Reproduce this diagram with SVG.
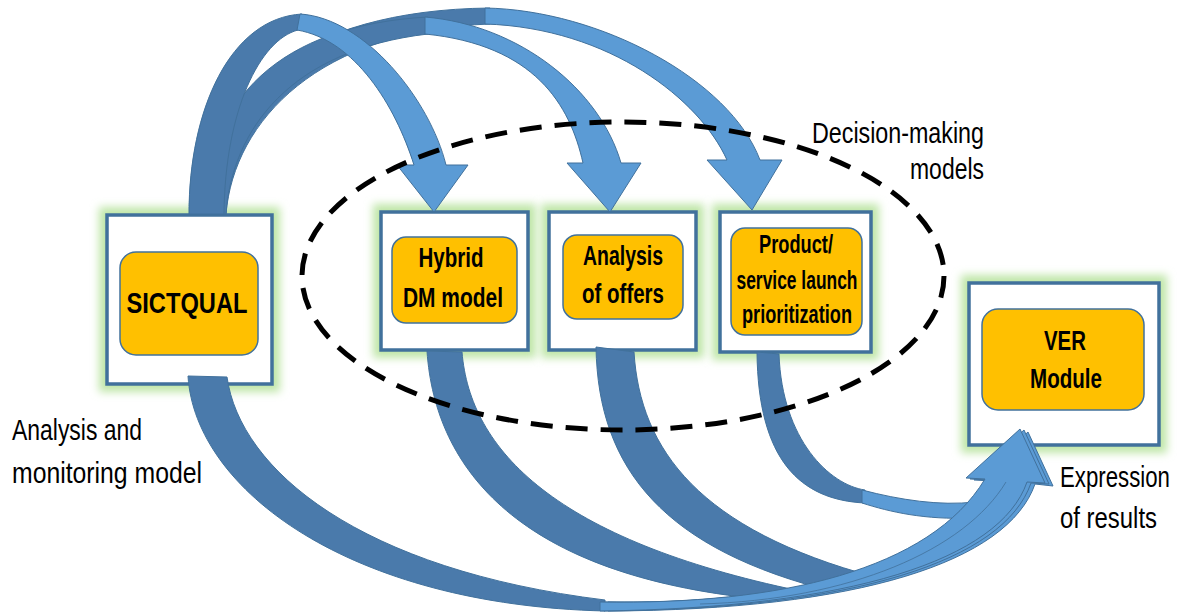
<svg xmlns="http://www.w3.org/2000/svg" width="1180" height="612" viewBox="0 0 1180 612">
<defs>
<style>
.glow{fill:none;stroke:#bfe6a8;stroke-width:16;filter:url(#blur)}
.box{fill:#fff;stroke:#41719c;stroke-width:3.5}
.core{fill:#ffc000;stroke:#41719c;stroke-width:1.5}
.nt{font-family:"Liberation Sans Narrow","Liberation Sans",Arial,sans-serif;font-weight:bold;fill:#000;text-anchor:middle}
.lb{font-family:"Liberation Sans Narrow","Liberation Sans",Arial,sans-serif;fill:#000;font-size:29px}
.dk{fill:#4a7aab;stroke:#41719c;stroke-width:1}
.lt{fill:#5b9bd5;stroke:#41719c;stroke-width:1}
.ln{fill:none;stroke:#41719c;stroke-width:0.8}
</style>
<filter id="blur" x="-20%" y="-20%" width="140%" height="140%"><feGaussianBlur stdDeviation="4.5"/></filter>
</defs>
<rect width="1180" height="612" fill="#fff"/>

<g id="node-sictqual">
<rect class="glow" x="107" y="215" width="165" height="169"/>
<rect class="box" x="107" y="215" width="165" height="169"/>
<rect class="core" x="120" y="252" width="138" height="103" rx="16"/>
<text class="nt" x="187" y="313" font-size="30" textLength="121" lengthAdjust="spacingAndGlyphs">SICTQUAL</text>
</g>

<g id="node-hybrid">
<rect class="glow" x="381" y="212" width="147" height="138"/>
<rect class="box" x="381" y="212" width="147" height="138"/>
<rect class="core" x="392" y="237" width="125" height="86" rx="14"/>
<text class="nt" x="451" y="267" font-size="27" textLength="65" lengthAdjust="spacingAndGlyphs">Hybrid</text>
<text class="nt" x="453" y="307" font-size="27" textLength="100" lengthAdjust="spacingAndGlyphs">DM model</text>
</g>

<g id="node-offers">
<rect class="glow" x="549" y="212" width="147" height="138"/>
<rect class="box" x="549" y="212" width="147" height="138"/>
<rect class="core" x="563" y="235" width="120" height="84" rx="14"/>
<text class="nt" x="623" y="265" font-size="27" textLength="80" lengthAdjust="spacingAndGlyphs">Analysis</text>
<text class="nt" x="623" y="303" font-size="27" textLength="82" lengthAdjust="spacingAndGlyphs">of offers</text>
</g>

<g id="node-product">
<rect class="glow" x="720" y="212" width="151" height="140"/>
<rect class="box" x="720" y="212" width="151" height="140"/>
<rect class="core" x="731" y="228" width="131" height="107" rx="14"/>
<text class="nt" x="796" y="253" font-size="25" textLength="74" lengthAdjust="spacingAndGlyphs">Product/</text>
<text class="nt" x="797" y="289" font-size="25" textLength="121" lengthAdjust="spacingAndGlyphs">service launch</text>
<text class="nt" x="797" y="323" font-size="25" textLength="110" lengthAdjust="spacingAndGlyphs">prioritization</text>
</g>

<g id="node-ver">
<rect class="glow" x="969" y="283" width="190" height="162"/>
<rect class="box" x="969" y="283" width="190" height="162"/>
<rect class="core" x="982" y="309" width="162" height="101" rx="16"/>
<text class="nt" x="1065" y="350" font-size="27" textLength="42" lengthAdjust="spacingAndGlyphs">VER</text>
<text class="nt" x="1066" y="388" font-size="27" textLength="72" lengthAdjust="spacingAndGlyphs">Module</text>
</g>

<g id="connectors">
<!-- top arrows: SICTQUAL to decision-making models -->
<path class="dk" d="M200,214 C200,95 300,10 490,8 L490,24 C320,30 234,120 226,214 Z"/>
<path class="lt" d="M485,8 C600,10 730,80 760,160 L782,160 L752,210 L707,160 L727,160 C700,100 610,28 485,24 Z"/>
<path class="dk" d="M205,214 C205,100 280,25 428,17 L428,34 C290,50 232,130 226,214 Z"/>
<path class="lt" d="M425,17 C520,25 600,90 621,163 L641,163 L610,212 L567,163 L583,163 C570,105 535,45 425,34 Z"/>
<path class="dk" d="M189,214 C189,110 230,18 302,14 L298,30 C260,40 225,110 224,214 Z"/>
<path class="lt" d="M300,14 C365,18 430,100 446,165 L468,165 L434,212 L397,165 L414,165 C395,105 355,40 297,30 Z"/>

<!-- bottom arrows: models to VER module -->
<path class="dk" d="M188,376 C195,490 350,605 605,611 L605,600 C360,570 240,470 227,377 Z"/>
<path class="dk" d="M427,351 C435,470 520,575 760,599 L800,591 C555,540 470,450 462,352 Z"/>
<path class="dk" d="M596,347 C598,470 665,550 835,592 L875,577 C700,530 640,450 634,352 Z"/>
<path class="dk" d="M757,352 C758,460 800,500 865,503 L865,490 C830,485 782,440 779,354 Z"/>
<path class="lt" d="M862,490 C900,500 940,506 975,502 L972,518 C925,520 890,512 862,503 Z"/>
<path class="lt" d="M608,602 C788,605 938,570 993,481 L974,480 L1028,432 L1053,486 L1035,484 C1008,562 858,610 608,611 Z"/>
<path class="lt" d="M604,602 C784,605 934,570 989,480 L970,479 L1024,430 L1049,484 L1031,483 C1004,561 854,609 604,611 Z"/>
<path class="lt" d="M600,602 C780,605 930,570 985,479 L966,478 L1020,429 L1045,483 L1027,482 C1000,560 850,608 600,611 Z"/>
<path class="ln" d="M700,604 C850,600 965,550 1006,482"/>
</g>

<g id="group-ellipse">
<ellipse cx="623" cy="276" rx="321" ry="154" fill="none" stroke="#000" stroke-width="5" stroke-dasharray="22 13"/>
</g>

<g id="labels">
<text class="lb" x="12" y="440" textLength="130" lengthAdjust="spacingAndGlyphs">Analysis and</text>
<text class="lb" x="12" y="483" textLength="190" lengthAdjust="spacingAndGlyphs">monitoring model</text>
<text class="lb" x="812" y="143" textLength="172" lengthAdjust="spacingAndGlyphs">Decision-making</text>
<text class="lb" x="910" y="179" textLength="74" lengthAdjust="spacingAndGlyphs">models</text>
<text class="lb" x="1060" y="487" textLength="110" lengthAdjust="spacingAndGlyphs">Expression</text>
<text class="lb" x="1060" y="528" textLength="97" lengthAdjust="spacingAndGlyphs">of results</text>
</g>
</svg>
